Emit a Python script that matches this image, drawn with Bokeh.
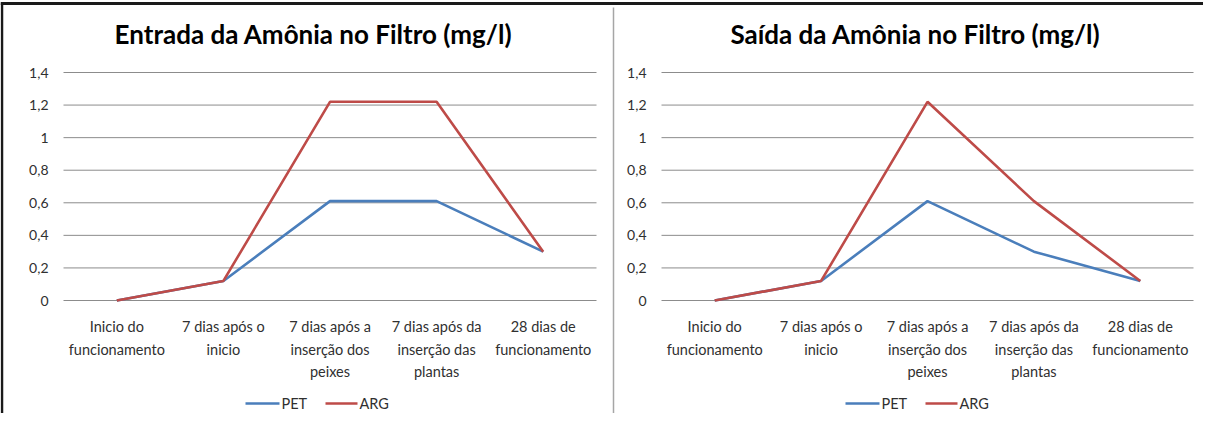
from bokeh.plotting import figure
from bokeh.models import Range1d
from bokeh.core.properties import value
from bokeh.embed import file_html
from bokeh.resources import INLINE

categories = [
    "Inicio do\nfuncionamento",
    "7 dias após o\ninicio",
    "7 dias após a\ninserção dos\npeixes",
    "7 dias após da\ninserção das\nplantas",
    "28 dias de\nfuncionamento",
]
entrada_pet = [0, 0.12, 0.61, 0.61, 0.3]
entrada_arg = [0, 0.12, 1.22, 1.22, 0.3]
saida_pet = [0, 0.12, 0.61, 0.3, 0.12]
saida_arg = [0, 0.12, 1.22, 0.61, 0.12]
y_ticks = [0, 0.2, 0.4, 0.6, 0.8, 1.0, 1.2, 1.4]
y_tick_labels = ["0", "0,2", "0,4", "0,6", "0,8", "1", "1,2", "1,4"]
series_names = ["PET", "ARG"]
titles = ["Entrada da Amônia no Filtro (mg/l)", "Saída da Amônia no Filtro (mg/l)"]

BLUE = "#4a7ebb"
RED = "#be4b48"
GRID = "#8c8c8c"
TEXT = "#303030"
FONT = value("Lato")

# layout geometry (pixels inside the figure)
W, H = 1203, 413
Y0_PX, YTOP_PX = 300, 72
YMAX = 1.4
charts = [
    dict(name="c1", left=63, right=596, title_x=313, legend_x=317, pet=entrada_pet, arg=entrada_arg, title=titles[0]),
    dict(name="c2", left=661, right=1193, title_x=915, legend_x=917, pet=saida_pet, arg=saida_arg, title=titles[1]),
]

p = figure(width=W, height=H, output_backend="svg", toolbar_location=None,
           x_range=Range1d(0, W), y_range=Range1d(H, 0),
           x_axis_type=None, y_axis_type=None, min_border=0)
p.outline_line_color = None
p.background_fill_color = "white"
p.border_fill_color = "white"

unit_y = (Y0_PX - YTOP_PX) / YMAX
ys0 = -(H - Y0_PX) / unit_y
p.extra_y_ranges = {"v": Range1d(ys0, ys0 + H / unit_y)}
n = len(categories)
xr = {}
for c in charts:
    unit = (c["right"] - c["left"]) / n
    xs0 = -0.5 - c["left"] / unit
    xr[c["name"]] = Range1d(xs0, xs0 + W / unit)
p.extra_x_ranges = xr

# document frame lines
p.segment(x0=[0], y0=[3], x1=[W], y1=[3], line_color="#1a1a1a", line_width=3)
p.segment(x0=[1.5], y0=[3], x1=[1.5], y1=[H], line_color="#1a1a1a", line_width=2.5)
p.segment(x0=[613], y0=[7], x1=[613], y1=[H], line_color="#a6a6a6", line_width=1.5)

xs = list(range(n))
for c in charts:
    rn = c["name"]
    # gridlines (the 0 line doubles as the category axis line)
    p.segment(x0=[-0.5] * len(y_ticks), y0=y_ticks, x1=[n - 0.5] * len(y_ticks), y1=y_ticks,
              line_color=GRID, line_width=1, x_range_name=rn, y_range_name="v")
    # value tick labels
    p.text(x=[c["left"] - 15] * len(y_ticks), y=y_ticks, text=y_tick_labels,
           text_align="right", text_baseline="middle", text_font=FONT,
           text_font_size="14px", text_color=TEXT, y_range_name="v")
    # category tick labels, one text per line
    lx, ly, lt = [], [], []
    for i, cat in enumerate(categories):
        for j, line in enumerate(cat.split("\n")):
            lx.append(i)
            ly.append(Y0_PX + 26 + j * 22.5)
            lt.append(line)
    p.text(x=lx, y=ly, text=lt, text_align="center", text_baseline="middle",
           text_font=FONT, text_font_size="14.5px", text_color=TEXT, x_range_name=rn)
    # series
    p.line(xs, c["pet"], line_color=BLUE, line_width=2.6, x_range_name=rn, y_range_name="v")
    p.line(xs, c["arg"], line_color=RED, line_width=2.6, x_range_name=rn, y_range_name="v")
    # title
    p.text(x=[c["title_x"]], y=[33], text=[c["title"]], text_align="center", text_baseline="middle",
           text_font=FONT, text_font_style="bold", text_font_size="26px", text_color="#000000")
    # legend
    lc = c["legend_x"]
    ly_leg = 403
    p.segment(x0=[lc - 72, lc + 8], y0=[ly_leg, ly_leg], x1=[lc - 38, lc + 40], y1=[ly_leg, ly_leg],
              line_color=[BLUE, RED], line_width=2.6)
    p.text(x=[lc - 36, lc + 42], y=[ly_leg, ly_leg], text=series_names, text_align="left",
           text_baseline="middle", text_font=FONT, text_font_size="14.5px", text_color=TEXT)

open("out.html", "w").write(file_html(p, INLINE))
